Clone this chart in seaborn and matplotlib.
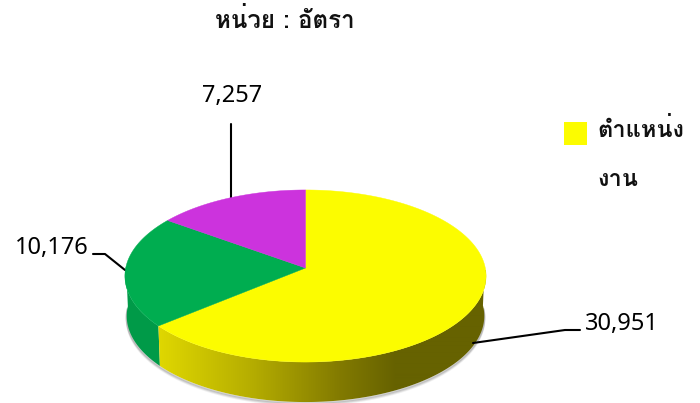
import numpy as np
import seaborn as sns
import matplotlib.pyplot as plt
from matplotlib.patches import Polygon

title = 'หน่วย : อัตรา'
legend_lines = ['ตำแหน่ง', 'งาน']
values = [30951, 10176, 7257]
labels = ['30,951', '10,176', '7,257']
top_colors = ['#FCFC00', '#00AD50', '#CC33DD']

sns.set_theme(style='white')
plt.rcParams['font.family'] = ['Loma', 'DejaVu Sans']

fig = plt.figure(figsize=(7, 4.03), dpi=100)
ax = fig.add_axes([0, 0, 1, 1])

# perspective view of the disc
cx, cy, rx, ry, p = 305.5, 268, 179.8, 85.3, 0.093
depth = 40

def rim(a, shrink=1.0, dy=0):
    x, y = np.cos(a), np.sin(a)
    w = 1 + p * y
    return cx + rx * shrink * x / w, cy + dy - ry * y / w

# angles from the values, clockwise from 12 o'clock
frac = np.cumsum([0] + values) / sum(values)
edges = np.pi / 2 - 2 * np.pi * frac

# soft shadow under the wall
a = np.linspace(-np.pi, 0, 200)
for off, alpha in [(3, 0.12), (2, 0.2), (1, 0.3)]:
    x, y = rim(a, 0.99, depth + off)
    ax.plot(x, y, color='#777777', alpha=alpha, lw=1.5, zorder=1)

# green wall
a = np.linspace(edges[1], -np.pi - 0.02, 60)
xt, yt = rim(a)
xb, yb = rim(a, 0.99, depth)
ax.fill(np.r_[xt, xb[::-1]], np.r_[yt, yb[::-1]], color='#009A48', lw=0, zorder=2)

# yellow wall with the gradient
a = np.linspace(edges[1], 0.03, 200)
xt, yt = rim(a)
xb, yb = rim(a, 0.99, depth)
clip = Polygon(np.c_[np.r_[xt, xb[::-1]], np.r_[yt, yb[::-1]]], closed=True,
               transform=ax.transData, fc='none', ec='none')
ax.add_patch(clip)
grad_x = [157, 250, 340, 395, 490]
grad_r = [224, 182, 130, 102, 102]
grad_g = [216, 174, 122, 98, 98]
xs = np.arange(150, 495)
img = np.zeros((1, xs.size, 3))
img[0, :, 0] = np.interp(xs, grad_x, grad_r) / 255
img[0, :, 1] = np.interp(xs, grad_x, grad_g) / 255
im = ax.imshow(img, extent=(150, 495, 410, 270), aspect='auto', zorder=2, interpolation='bilinear')
im.set_clip_path(clip)

# top of the disc
for i, c in enumerate(top_colors):
    a = np.linspace(edges[i], edges[i + 1], 160)
    x, y = rim(a)
    ax.fill(np.r_[cx, x], np.r_[cy, y], color=c, lw=0.3, zorder=3)

# leader lines
ax.plot([231, 231], [124, 199], color='black', lw=1.5, zorder=2)
ax.plot([93, 105, 125], [254, 254, 270], color='black', lw=1.5, zorder=2)
ax.plot([473, 565, 580], [343, 330, 330], color='black', lw=1.5, zorder=4)

num_font = ['Noto Sans', 'DejaVu Sans']
ax.text(232, 96, labels[2], ha='center', va='center', fontsize=17, family=num_font, color='black')
ax.text(52, 248, labels[1], ha='center', va='center', fontsize=17, family=num_font, color='black')
ax.text(622, 324, labels[0], ha='center', va='center', fontsize=17, family=num_font, color='black')

ax.text(284.5, 20, title, ha='center', va='center', fontsize=17.4, fontweight='bold', color='#111111')

# legend
ax.fill([564, 587, 587, 564], [122, 122, 145, 145], color='#FCFC00', lw=0)
ax.text(597, 130, legend_lines[0], ha='left', va='center', fontsize=17, fontweight='bold', color='#111111')
ax.text(597, 179, legend_lines[1], ha='left', va='center', fontsize=17, fontweight='bold', color='#111111')

ax.set_xlim(0, 700)
ax.set_ylim(403, 0)
ax.axis('off')

fig.savefig('out.png', dpi=100)
